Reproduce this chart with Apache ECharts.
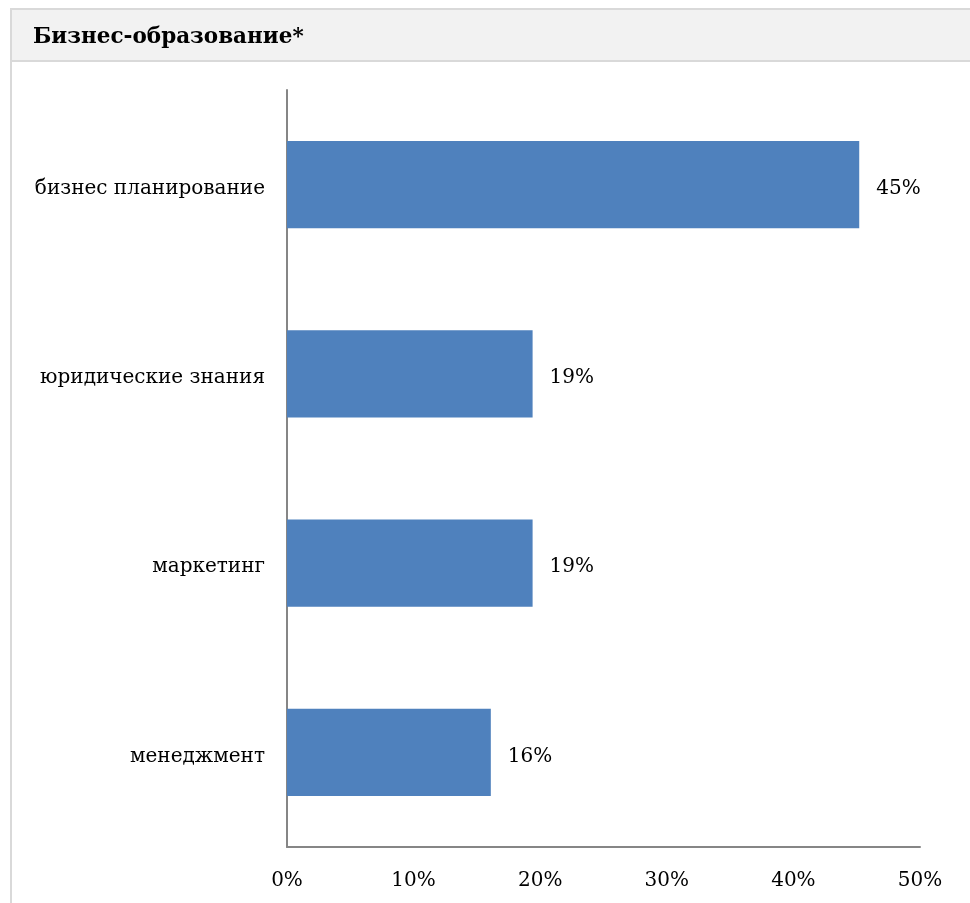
<!DOCTYPE html>
<html><head><meta charset="utf-8">
<script src="https://cdn.jsdelivr.net/npm/echarts@6/dist/echarts.min.js"></script>
<style>html,body{margin:0;padding:0;background:#fff}#c{width:970px;height:903px}</style>
</head><body><div id="c"></div>
<script>
const titleText = 'Бизнес-образование*';
const categories = ['бизнес планирование', 'юридические знания', 'маркетинг', 'менеджмент'];
const values = [45.2, 19.4, 19.4, 16.1];
const xTicks = [0, 10, 20, 30, 40, 50];

const FONT = 'DejaVu Serif';
const chart = echarts.init(document.getElementById('c'));
chart.setOption({
  animation: false,
  backgroundColor: '#fff',
  graphic: [
    {type: 'rect', shape: {x: 11, y: 9, width: 970, height: 52}, style: {fill: '#f2f2f2', stroke: '#d9d9d9', lineWidth: 2}, z: 0},
    {type: 'line', shape: {x1: 11, y1: 61, x2: 11, y2: 903}, style: {stroke: '#d9d9d9', lineWidth: 2}},
    {type: 'text', left: 33, top: 26, style: {text: titleText, font: 'bold 21.5px "' + FONT + '"', fill: '#000'}}
  ],
  grid: {left: 287, right: 50, top: 90, bottom: 56, containLabel: false},
  xAxis: {
    type: 'value', min: 0, max: 50, interval: 10,
    axisLine: {show: true, lineStyle: {color: '#868686', width: 2}},
    axisTick: {show: false},
    splitLine: {show: false},
    axisLabel: {formatter: v => v + '%', fontFamily: FONT, fontSize: 20, color: '#000', margin: 24}
  },
  yAxis: {
    type: 'category', data: categories, inverse: true,
    axisLine: {show: true, lineStyle: {color: '#868686', width: 2}},
    axisTick: {show: false},
    axisLabel: {
      formatter: v => '{a|' + v + '}',
      rich: {a: {fontFamily: FONT, fontSize: 20, color: '#000', padding: [8, 0, 0, 0]}},
      margin: 22
    }
  },
  series: [{
    type: 'bar', data: values, barCategoryGap: '54%',
    itemStyle: {color: '#4f81bd'},
    label: {show: true, position: 'right', distance: 17, offset: [0, 4], formatter: p => Math.round(p.value) + '%', fontFamily: FONT, fontSize: 20, color: '#000'}
  }]
});
</script></body></html>
